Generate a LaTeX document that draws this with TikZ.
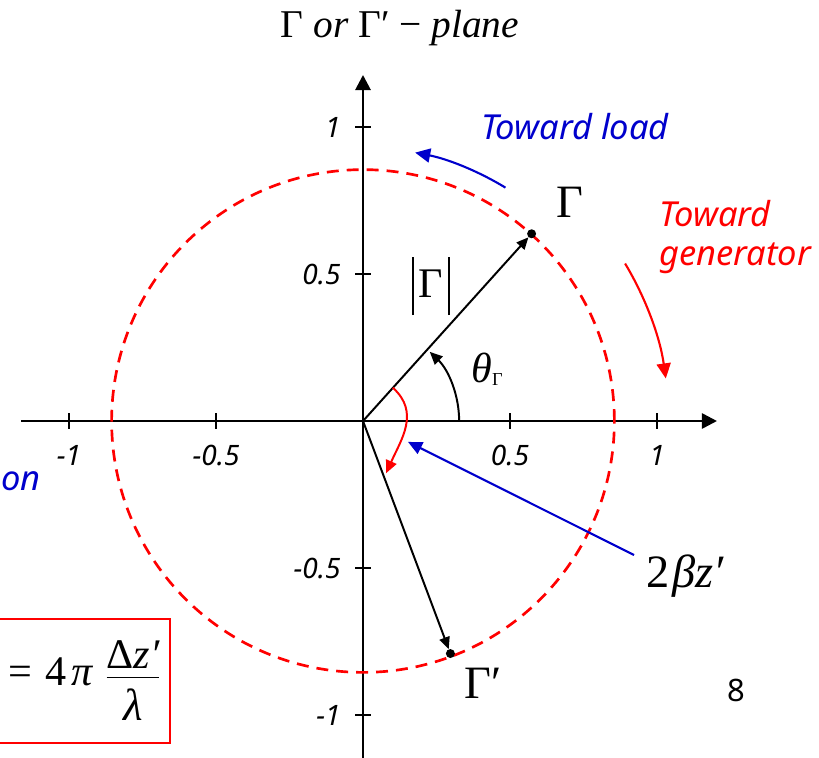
\documentclass[tikz,border=0pt]{standalone}
\usepackage{fontspec}
\setmainfont{Liberation Serif}
\setsansfont{Noto Sans}
\usetikzlibrary{arrows.meta}
\definecolor{towardblue}{RGB}{0,0,204}
\definecolor{towardred}{RGB}{255,0,0}

\begin{document}
\begin{tikzpicture}[x=7.35cm,y=7.35cm,>=Latex,
  axis/.style={line width=1.9pt,-{Triangle[length=10.7pt,width=10.7pt]}},
  tickmark/.style={line width=1.4pt},
  ticklabel/.style={font=\fontsize{20}{24}\selectfont\sffamily\itshape,inner sep=0pt},
  vec/.style={line width=1.4pt,-{Triangle[length=8.5pt,width=7.5pt]}},
  tipdot/.style={circle,fill=black,inner sep=0pt,minimum size=6.4pt},
  curvearrow/.style={line width=1.5pt,-{Triangle[length=10.7pt,width=10pt]}},
  sym/.style={font=\fontsize{33}{40}\selectfont,inner sep=0pt},
  note/.style={font=\fontsize{24.5}{27.7}\selectfont\sffamily\itshape,inner sep=0pt,align=left}]
\path[use as bounding box,clip] (-1.2347,-1.1429) rectangle (1.5510,1.4320);
\coordinate (O) at (0,0);
\coordinate (xl) at (-1.163,0);
\coordinate (xr) at (1.204,0);
\coordinate (yb) at (0,-1.2);
\coordinate (yt) at (0,1.177);
\draw[axis] (xl) -- (xr);
\draw[axis] (yb) -- (yt);
\foreach \t/\lab/\n in {-1/-1/a,-0.5/-0.5/b,0.5/0.5/c,1/1/d}{
  \draw[tickmark] (\t,-0.027) -- (\t,0.027);
  \draw[tickmark] (-0.027,\t) -- (0.027,\t);
  \node[ticklabel] (xlab\n) at (\t,-0.116) {\lab};
  \node[ticklabel,anchor=east] (ylab\n) at (-0.075,\t) {\lab};
}
\draw[towardred,line width=1.9pt,dash pattern=on 8.5pt off 5.7pt] (O) circle (0.855);
\node[font=\fontsize{28}{34}\selectfont,inner sep=0pt] (title) at (0.126,1.337) {Γ {\itshape or} Γ′ − {\itshape plane}};
\node[tipdot] (G) at (48:0.857) {};
\node[tipdot] (Gp) at (-69.4:0.845) {};
\draw[vec] (O) -- (G);
\draw[vec] (O) -- (Gp);
\node[sym] (lG) at (0.704,0.745) {Γ};
\node[sym] (lGp) at (0.408,-0.891) {Γ′};
\node[font=\fontsize{30}{36}\selectfont,inner sep=0pt] (lmod) at (0.231,0.459) {\rule[-12.8pt]{1.2pt}{41.3pt}\hspace{3.5pt}Γ\hspace{3.5pt}\rule[-12.8pt]{1.2pt}{41.3pt}};
\node[font=\fontsize{30}{36}\selectfont,inner sep=0pt] (lth) at (0.422,0.177) {{\itshape θ}\raisebox{-2pt}{\fontsize{13}{15}\selectfont Γ}};
\draw[line width=1.4pt,-{Triangle[length=9pt,width=8pt]}] (0.327,0) arc[start angle=0,end angle=46,radius=0.327];
\coordinate (rA) at (48:0.152);
\coordinate (rB) at (-66:0.194);
\draw[towardred,line width=1.4pt,-{Triangle[length=9pt,width=8pt]}] (rA) to[out=-42,in=66,looseness=1.1] (rB);
\node[sym,inner xsep=8.5pt] (bz) at (1.095,-0.529) {2\hspace{2pt}{\itshape βz′}};
\coordinate (zTip) at (0.153,-0.071);
\draw[towardblue,line width=1.5pt,-{Triangle[length=10pt,width=9pt]}] (bz.north west) -- (zTip);
\node[note,text=towardblue,anchor=base] (tload) at (0.721,0.959) {Toward load};
\draw[curvearrow,towardblue] (58.6:0.93) arc[start angle=58.6,end angle=79,radius=0.93];
\node[note,text=towardred,anchor=north west] (tgen) at (1.008,0.750) {Toward\\generator};
\draw[curvearrow,towardred] (31:1.04) arc[start angle=31,end angle=8,radius=1.04];
\node[note,text=towardblue,anchor=base west] (gon) at (-1.2317,-0.235) {on};
\node[draw=towardred,line width=1.4pt,text width=8cm,align=right,minimum height=3.1cm,inner xsep=6.4pt,anchor=east] (eq) at (-0.653,-0.884) {\fontsize{30}{36}\selectfont =\hspace{9pt}4\hspace{3.5pt}{\itshape π}\hspace{9pt}$\displaystyle\frac{\hbox{\raisebox{-5pt}{Δ{\itshape z′}}}}{\hbox{\raisebox{-8pt}{\fontsize{32}{36}\selectfont\itshape λ}}}$};
\node[font=\fontsize{22}{26}\selectfont\sffamily,inner sep=0pt] (pg) at (1.269,-0.918) {8};
\end{tikzpicture}
\end{document}
